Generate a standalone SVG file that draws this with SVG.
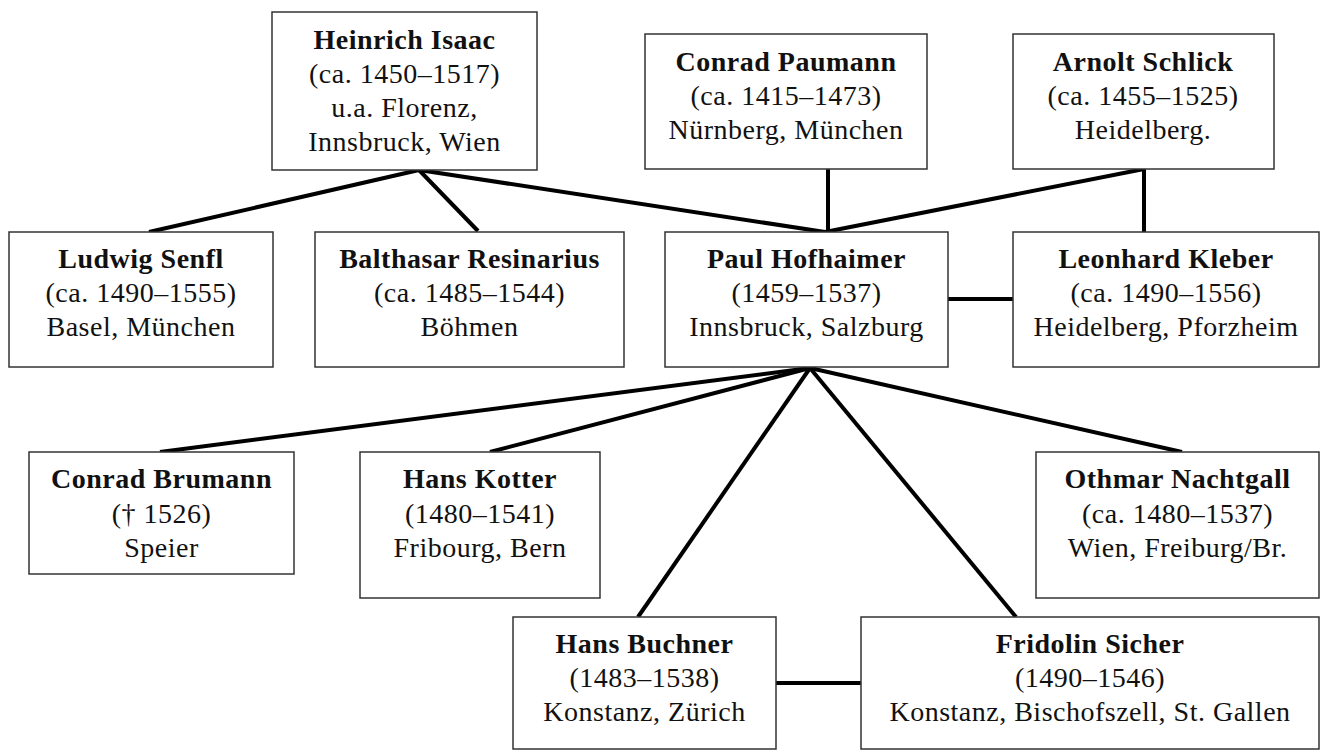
<svg xmlns="http://www.w3.org/2000/svg" width="1327" height="751" viewBox="0 0 1327 751">
<style>
.box{fill:#fff;stroke:#333;stroke-width:1.5}
text{font-family:"Liberation Serif","Times New Roman",serif;font-size:28px;letter-spacing:0.5px;fill:#111;text-anchor:middle}
.n{font-weight:bold}
.c{stroke:#000;stroke-width:4;fill:none;stroke-linecap:butt}
</style>
<rect width="1327" height="751" fill="#fff"/>
<g id="connectors">
<line class="c" x1="419" y1="170" x2="149" y2="232"/>
<line class="c" x1="419" y1="170" x2="478" y2="231"/>
<line class="c" x1="419" y1="170" x2="825" y2="232"/>
<line class="c" x1="828" y1="169" x2="828" y2="232"/>
<line class="c" x1="1144" y1="169" x2="825" y2="232"/>
<line class="c" x1="1144" y1="169" x2="1144" y2="232"/>
<line class="c" x1="948" y1="299" x2="1013" y2="299"/>
<line class="c" x1="810" y1="368" x2="160" y2="452"/>
<line class="c" x1="810" y1="368" x2="490" y2="452"/>
<line class="c" x1="810" y1="368" x2="638" y2="617"/>
<line class="c" x1="810" y1="368" x2="1016" y2="617"/>
<line class="c" x1="810" y1="368" x2="1182" y2="452"/>
<line class="c" x1="776" y1="683" x2="861" y2="683"/>
</g>
<g id="isaac"><rect class="box" x="272" y="12" width="265" height="158"/>
<text x="404.5" y="49" class="n">Heinrich Isaac</text><text x="404.5" y="83">(ca. 1450–1517)</text><text x="404.5" y="117">u.a. Florenz,</text><text x="404.5" y="151">Innsbruck, Wien</text></g>
<g id="paumann"><rect class="box" x="645" y="34" width="282" height="135"/>
<text x="786" y="71" class="n">Conrad Paumann</text><text x="786" y="105">(ca. 1415–1473)</text><text x="786" y="139">Nürnberg, München</text></g>
<g id="schlick"><rect class="box" x="1013" y="34" width="261" height="135"/>
<text x="1143" y="71" class="n">Arnolt Schlick</text><text x="1143" y="105">(ca. 1455–1525)</text><text x="1143" y="139">Heidelberg.</text></g>
<g id="senfl"><rect class="box" x="9" y="232" width="264" height="135"/>
<text x="141" y="268" class="n">Ludwig Senfl</text><text x="141" y="302">(ca. 1490–1555)</text><text x="141" y="336">Basel, München</text></g>
<g id="resinarius"><rect class="box" x="315" y="232" width="309" height="135"/>
<text x="469.5" y="268" class="n">Balthasar Resinarius</text><text x="469.5" y="302">(ca. 1485–1544)</text><text x="469.5" y="336">Böhmen</text></g>
<g id="hofhaimer"><rect class="box" x="665" y="232" width="283" height="135"/>
<text x="806.5" y="268" class="n">Paul Hofhaimer</text><text x="806.5" y="302">(1459–1537)</text><text x="806.5" y="336">Innsbruck, Salzburg</text></g>
<g id="kleber"><rect class="box" x="1013" y="232" width="306" height="135"/>
<text x="1166" y="268" class="n">Leonhard Kleber</text><text x="1166" y="302">(ca. 1490–1556)</text><text x="1166" y="336">Heidelberg, Pforzheim</text></g>
<g id="brumann"><rect class="box" x="29" y="452" width="265" height="122"/>
<text x="161.5" y="488" class="n">Conrad Brumann</text><text x="161.5" y="523">(† 1526)</text><text x="161.5" y="557">Speier</text></g>
<g id="kotter"><rect class="box" x="360" y="452" width="240" height="146"/>
<text x="480" y="488" class="n">Hans Kotter</text><text x="480" y="523">(1480–1541)</text><text x="480" y="557">Fribourg, Bern</text></g>
<g id="nachtgall"><rect class="box" x="1036" y="452" width="283" height="146"/>
<text x="1177.5" y="488" class="n">Othmar Nachtgall</text><text x="1177.5" y="523">(ca. 1480–1537)</text><text x="1177.5" y="557">Wien, Freiburg/Br.</text></g>
<g id="buchner"><rect class="box" x="513" y="617" width="263" height="132"/>
<text x="644.5" y="653" class="n">Hans Buchner</text><text x="644.5" y="687">(1483–1538)</text><text x="644.5" y="721">Konstanz, Zürich</text></g>
<g id="sicher"><rect class="box" x="861" y="617" width="458" height="132"/>
<text x="1090" y="653" class="n">Fridolin Sicher</text><text x="1090" y="687">(1490–1546)</text><text x="1090" y="721">Konstanz, Bischofszell, St. Gallen</text></g>
</svg>
